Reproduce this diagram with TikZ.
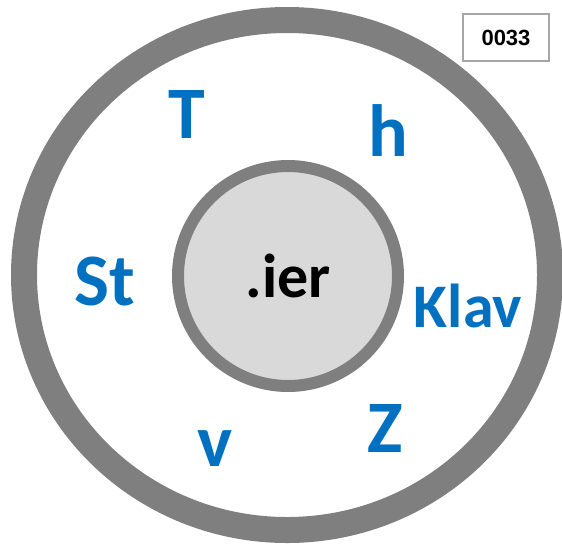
\documentclass[tikz,border=0pt]{standalone}
\usepackage{fontspec}
\setmainfont{Carlito}
\newfontfamily\arialfont{Liberation Sans}
\definecolor{ringgray}{HTML}{7F7F7F}
\definecolor{corefill}{HTML}{D9D9D9}
\definecolor{boxgray}{HTML}{A6A6A6}
\definecolor{lblblue}{HTML}{0070C0}
\tikzset{
  lbl/.style={text=lblblue, font=\bfseries\fontsize{74}{80}\selectfont, inner sep=0pt},
}
\begin{document}
\begin{tikzpicture}[x=1pt, y=-1pt]
    \useasboundingbox (0,0) rectangle (562,547);
    % outer ring
    \draw[ringgray, line width=26pt] (287,275) ellipse [x radius=263, y radius=255];
    % core
    \node[circle, draw=ringgray, fill=corefill, line width=12pt, minimum size=220pt, inner sep=0pt,
          font=\bfseries\fontsize{62}{66}\selectfont] (core) at (288,276) {.ier};
    % tag
    \node[draw=boxgray, line width=2pt, minimum width=86pt, minimum height=47pt, inner sep=0pt,
          font=\arialfont\bfseries\fontsize{22}{24}\selectfont] (tag) at (506,37.5) {0033};
    % labels
    \node[lbl] (T) at (187,114.5) {T};
    \node[lbl] (h) at (388,131) {h};
    \node[lbl] (St) at (105,281) {St};
    \node[lbl, font=\bfseries\fontsize{62}{66}\selectfont] (Klav) at (468,306) {Klav};
    \node[lbl] (v) at (215,449) {v};
    \node[lbl] (Z) at (385,428) {Z};
\end{tikzpicture}
\end{document}
